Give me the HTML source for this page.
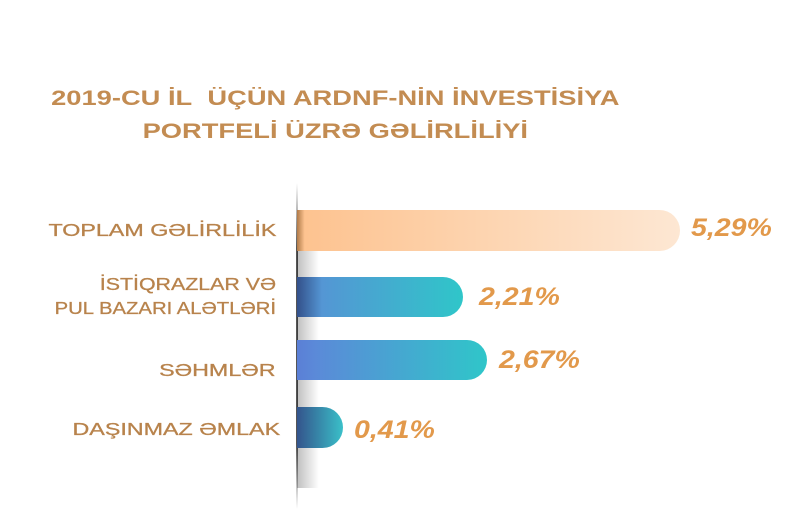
<!DOCTYPE html>
<html><head><meta charset="utf-8"><style>
body{margin:0;width:800px;height:521px;background:#fff;position:relative;overflow:hidden;font-family:"Liberation Sans","DejaVu Sans",sans-serif}
.t{position:absolute;left:0;width:670px;text-align:center;color:#c38c52;font-weight:bold;font-size:21px;transform:scaleX(1.3);transform-origin:334px 0}
.l{position:absolute;right:524px;text-align:right;color:#b8834c;font-size:17.5px;line-height:24px;transform:scaleX(1.33);transform-origin:100% 0;white-space:nowrap;-webkit-text-stroke:0.3px #b8834c}
.b{position:absolute;left:297px;border-radius:0 21px 21px 0}
.p{position:absolute;color:#e2994b;font-weight:bold;font-style:italic;font-size:25px;transform:scaleX(1.14);transform-origin:0 0}
.s{position:absolute;left:297px;width:22px;background:linear-gradient(90deg,rgba(0,0,0,.25),rgba(0,0,0,0))}
</style></head><body>
<div class="t" style="top:87px">2019-CU İL&nbsp; ÜÇÜN ARDNF-NİN İNVESTİSİYA</div>
<div class="t" style="top:120px">PORTFELİ ÜZRƏ GƏLİRLİLİYİ</div>
<div style="position:absolute;left:296px;top:183px;width:2px;height:326px;background:linear-gradient(#fff,#555 20%,#555 80%,#fff)"></div>
<div class="s" style="top:251px;height:26px"></div>
<div class="s" style="top:317px;height:23px"></div>
<div class="s" style="top:380px;height:27px"></div>
<div class="s" style="top:448px;height:40px"></div>
<div class="l" style="top:218px">TOPLAM GƏLİRLİLİK</div>
<div class="l" style="top:272px;transform:scaleX(1.22)">İSTİQRAZLAR VƏ<br><span style="display:inline-block;transform:scaleX(0.95);transform-origin:100% 0">PUL BAZARI ALƏTLƏRİ</span></div>
<div class="l" style="top:358px">SƏHMLƏR</div>
<div class="l" style="top:417px;right:520px">DAŞINMAZ ƏMLAK</div>
<div class="b" style="top:210px;height:41px;width:383px;background:linear-gradient(90deg,#b07a48,#fdc390 2%,#fde7d3)"></div>
<div class="b" style="top:277px;height:40px;width:166px;background:linear-gradient(90deg,#33508a,#5496d4 15%,#2fc6c9)"></div>
<div class="b" style="top:340px;height:40px;width:190px;background:linear-gradient(90deg,#5b7fd6,#5b8ad8 10%,#2fc6c9)"></div>
<div class="b" style="top:407px;height:41px;width:46px;background:linear-gradient(90deg,#34548c,#3ac0c9)"></div>
<div class="p" style="left:691px;top:214px">5,29%</div>
<div class="p" style="left:479px;top:283px">2,21%</div>
<div class="p" style="left:499px;top:346px">2,67%</div>
<div class="p" style="left:354px;top:416px">0,41%</div>
</body></html>
